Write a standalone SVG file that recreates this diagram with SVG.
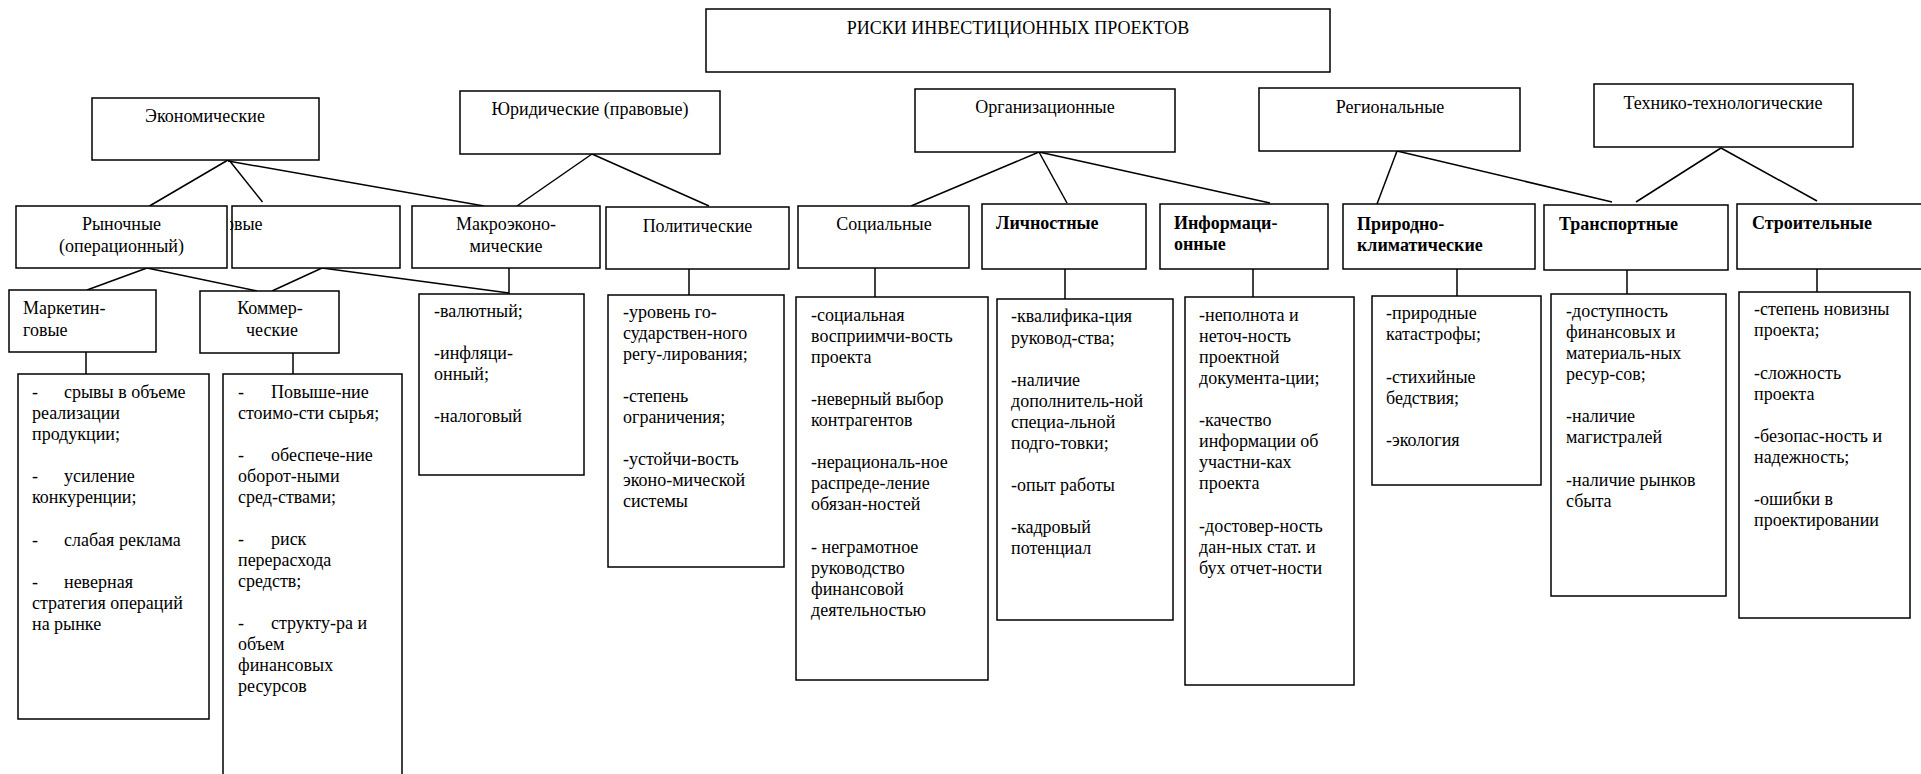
<svg xmlns="http://www.w3.org/2000/svg" width="1921" height="774" viewBox="0 0 1921 774">
  <style>
    .box { fill: #fff; stroke: #000; stroke-width: 1.5; }
    .t { font-family: "Liberation Serif", "Times New Roman", serif; font-size: 18px; fill: #000; }
    .b { font-weight: bold; }
    .m { text-anchor: middle; }
    .ln { stroke: #000; stroke-width: 1.5; fill: none; }
  </style>
  <defs>
    <clipPath id="finClip"><rect x="230" y="200" width="180" height="80"/></clipPath>
  </defs>
  <rect width="1921" height="774" fill="#fff"/>

  <!-- connectors -->
  <g id="connectors" class="ln">
    <line x1="228" y1="160" x2="149.5" y2="206"/>
    <line x1="229" y1="160" x2="262.5" y2="202"/>
    <line x1="228" y1="161" x2="484" y2="206"/>
    <line x1="592" y1="154" x2="517" y2="206"/>
    <line x1="592" y1="154" x2="709" y2="206"/>
    <line x1="147" y1="268" x2="87" y2="290"/>
    <line x1="147" y1="268" x2="257" y2="291"/>
    <line x1="322" y1="268" x2="272" y2="291"/>
    <line x1="322" y1="268" x2="509" y2="293"/>
    <line x1="509" y1="268" x2="509" y2="294"/>
    <line x1="689" y1="269" x2="689" y2="295"/>
    <line x1="1039" y1="152" x2="911" y2="206"/>
    <line x1="1039" y1="152" x2="1067" y2="203"/>
    <line x1="1039" y1="152" x2="1270" y2="203"/>
    <line x1="875" y1="268" x2="875" y2="297"/>
    <line x1="1065" y1="269" x2="1065" y2="299"/>
    <line x1="1253" y1="269" x2="1253" y2="297"/>
    <line x1="1397" y1="151" x2="1377" y2="204"/>
    <line x1="1397" y1="151" x2="1612" y2="202"/>
    <line x1="1721" y1="148" x2="1636" y2="202"/>
    <line x1="1721" y1="148" x2="1817" y2="201"/>
    <line x1="1457" y1="269" x2="1457" y2="296"/>
    <line x1="1627" y1="270" x2="1627" y2="294"/>
    <line x1="1817" y1="269" x2="1817" y2="292"/>
    <line x1="86" y1="352" x2="86" y2="374"/>
    <line x1="293" y1="353" x2="293" y2="374"/>
  </g>

  <!-- root -->
  <g id="root">
    <rect class="box" x="706" y="9" width="624" height="63"/>
    <text class="t m" x="1018" y="34">РИСКИ ИНВЕСТИЦИОННЫХ ПРОЕКТОВ</text>
  </g>

  <!-- top-level categories -->
  <g id="economic">
    <rect class="box" x="92" y="98" width="227" height="62"/>
    <text class="t m" x="205" y="122">Экономические</text>
  </g>
  <g id="legal">
    <rect class="box" x="460" y="91" width="260" height="63"/>
    <text class="t m" x="590" y="115">Юридические (правовые)</text>
  </g>
  <g id="organizational">
    <rect class="box" x="915" y="89" width="260" height="63"/>
    <text class="t m" x="1045" y="113">Организационные</text>
  </g>
  <g id="regional">
    <rect class="box" x="1259" y="88" width="261" height="63"/>
    <text class="t m" x="1390" y="113">Региональные</text>
  </g>
  <g id="technical">
    <rect class="box" x="1594" y="84" width="259" height="63"/>
    <text class="t m" x="1723" y="109">Технико-технологические</text>
  </g>

  <!-- second level -->
  <g id="financial">
    <rect class="box" x="232" y="206" width="168" height="62"/>
    <text class="t" x="225" y="230" clip-path="url(#finClip)">овые</text>
  </g>
  <g id="market">
    <rect class="box" x="16" y="206" width="211" height="62"/>
    <text class="t m" x="121.5" y="230">Рыночные</text>
    <text class="t m" x="121.5" y="252">(операционный)</text>
  </g>
  <g id="macro">
    <rect class="box" x="412" y="206" width="188" height="62"/>
    <text class="t m" x="506" y="230">Макроэконо-</text>
    <text class="t m" x="506" y="252">мические</text>
  </g>
  <g id="political">
    <rect class="box" x="606" y="207" width="183" height="62"/>
    <text class="t m" x="697.5" y="232">Политические</text>
  </g>
  <g id="social">
    <rect class="box" x="798" y="206" width="171" height="62"/>
    <text class="t m" x="884" y="230">Социальные</text>
  </g>
  <g id="personal">
    <rect class="box" x="982" y="204" width="164" height="65"/>
    <text class="t b" x="996" y="229">Личностные</text>
  </g>
  <g id="informational">
    <rect class="box" x="1160" y="204" width="168" height="65"/>
    <text class="t b" x="1174" y="229">Информаци-</text>
    <text class="t b" x="1174" y="250">онные</text>
  </g>
  <g id="natural">
    <rect class="box" x="1343" y="204" width="192" height="65"/>
    <text class="t b" x="1357" y="230">Природно-</text>
    <text class="t b" x="1357" y="251">климатические</text>
  </g>
  <g id="transport">
    <rect class="box" x="1544" y="205" width="184" height="65"/>
    <text class="t b" x="1559" y="230">Транспортные</text>
  </g>
  <g id="construction">
    <rect class="box" x="1737" y="204" width="200" height="65"/>
    <text class="t b" x="1752" y="229">Строительные</text>
  </g>

  <!-- third level under market risks -->
  <g id="marketing">
    <rect class="box" x="9" y="290" width="147" height="62"/>
    <text class="t" x="23" y="314">Маркетин-</text>
    <text class="t" x="23" y="336">говые</text>
  </g>
  <g id="commercial">
    <rect class="box" x="200" y="291" width="139" height="62"/>
    <text class="t m" x="270" y="314">Коммер-</text>
    <text class="t m" x="272" y="336">ческие</text>
  </g>

  <!-- detail lists -->
  <g id="marketing-items">
    <rect class="box" x="18" y="374" width="191" height="345"/>
    <text class="t"><tspan x="32" y="398">-</tspan><tspan x="64" y="398">срывы в объеме</tspan><tspan x="32" y="419">реализации</tspan><tspan x="32" y="440">продукции;</tspan><tspan x="32" y="482">-</tspan><tspan x="64" y="482">усиление</tspan><tspan x="32" y="503">конкуренции;</tspan><tspan x="32" y="546">-</tspan><tspan x="64" y="546">слабая реклама</tspan><tspan x="32" y="588">-</tspan><tspan x="64" y="588">неверная</tspan><tspan x="32" y="609">стратегия операций</tspan><tspan x="32" y="630">на рынке</tspan></text>
  </g>
  <g id="commercial-items">
    <rect class="box" x="223" y="374" width="179" height="410"/>
    <text class="t"><tspan x="238" y="398">-</tspan><tspan x="271" y="398">Повыше-ние</tspan><tspan x="238" y="419">стоимо-сти сырья;</tspan><tspan x="238" y="461">-</tspan><tspan x="271" y="461">обеспече-ние</tspan><tspan x="238" y="482">оборот-ными</tspan><tspan x="238" y="503">сред-ствами;</tspan><tspan x="238" y="545">-</tspan><tspan x="271" y="545">риск</tspan><tspan x="238" y="566">перерасхода</tspan><tspan x="238" y="587">средств;</tspan><tspan x="238" y="629">-</tspan><tspan x="271" y="629">структу-ра и</tspan><tspan x="238" y="650">объем</tspan><tspan x="238" y="671">финансовых</tspan><tspan x="238" y="692">ресурсов</tspan></text>
  </g>
  <g id="macro-items">
    <rect class="box" x="419" y="294" width="165" height="181"/>
    <text class="t"><tspan x="434" y="317">-валютный;</tspan><tspan x="434" y="359">-инфляци-</tspan><tspan x="434" y="380">онный;</tspan><tspan x="434" y="422">-налоговый</tspan></text>
  </g>
  <g id="political-items">
    <rect class="box" x="608" y="295" width="176" height="272"/>
    <text class="t"><tspan x="623" y="318">-уровень го-</tspan><tspan x="623" y="339">сударствен-ного</tspan><tspan x="623" y="360">регу-лирования;</tspan><tspan x="623" y="402">-степень</tspan><tspan x="623" y="423">ограничения;</tspan><tspan x="623" y="465">-устойчи-вость</tspan><tspan x="623" y="486">эконо-мической</tspan><tspan x="623" y="507">системы</tspan></text>
  </g>
  <g id="social-items">
    <rect class="box" x="796" y="297" width="192" height="383"/>
    <text class="t"><tspan x="811" y="321">-социальная</tspan><tspan x="811" y="342">восприимчи-вость</tspan><tspan x="811" y="363">проекта</tspan><tspan x="811" y="405">-неверный выбор</tspan><tspan x="811" y="426">контрагентов</tspan><tspan x="811" y="468">-нерациональ-ное</tspan><tspan x="811" y="489">распреде-ление</tspan><tspan x="811" y="510">обязан-ностей</tspan><tspan x="811" y="553">- неграмотное</tspan><tspan x="811" y="574">руководство</tspan><tspan x="811" y="595">финансовой</tspan><tspan x="811" y="616">деятельностью</tspan></text>
  </g>
  <g id="personal-items">
    <rect class="box" x="997" y="299" width="176" height="321"/>
    <text class="t"><tspan x="1011" y="322">-квалифика-ция</tspan><tspan x="1011" y="344">руковод-ства;</tspan><tspan x="1011" y="386">-наличие</tspan><tspan x="1011" y="407">дополнитель-ной</tspan><tspan x="1011" y="428">специа-льной</tspan><tspan x="1011" y="449">подго-товки;</tspan><tspan x="1011" y="491">-опыт работы</tspan><tspan x="1011" y="533">-кадровый</tspan><tspan x="1011" y="554">потенциал</tspan></text>
  </g>
  <g id="informational-items">
    <rect class="box" x="1185" y="297" width="169" height="388"/>
    <text class="t"><tspan x="1199" y="321">-неполнота и</tspan><tspan x="1199" y="342">неточ-ность</tspan><tspan x="1199" y="363">проектной</tspan><tspan x="1199" y="384">документа-ции;</tspan><tspan x="1199" y="426">-качество</tspan><tspan x="1199" y="447">информации об</tspan><tspan x="1199" y="468">участни-ках</tspan><tspan x="1199" y="489">проекта</tspan><tspan x="1199" y="532">-достовер-ность</tspan><tspan x="1199" y="553">дан-ных стат. и</tspan><tspan x="1199" y="574">бух отчет-ности</tspan></text>
  </g>
  <g id="natural-items">
    <rect class="box" x="1372" y="296" width="169" height="189"/>
    <text class="t"><tspan x="1386" y="319">-природные</tspan><tspan x="1386" y="340">катастрофы;</tspan><tspan x="1386" y="383">-стихийные</tspan><tspan x="1386" y="404">бедствия;</tspan><tspan x="1386" y="446">-экология</tspan></text>
  </g>
  <g id="transport-items">
    <rect class="box" x="1551" y="294" width="175" height="302"/>
    <text class="t"><tspan x="1566" y="317">-доступность</tspan><tspan x="1566" y="338">финансовых и</tspan><tspan x="1566" y="359">материаль-ных</tspan><tspan x="1566" y="380">ресур-сов;</tspan><tspan x="1566" y="422">-наличие</tspan><tspan x="1566" y="443">магистралей</tspan><tspan x="1566" y="486">-наличие рынков</tspan><tspan x="1566" y="507">сбыта</tspan></text>
  </g>
  <g id="construction-items">
    <rect class="box" x="1739" y="292" width="171" height="326"/>
    <text class="t"><tspan x="1754" y="315">-степень новизны</tspan><tspan x="1754" y="336">проекта;</tspan><tspan x="1754" y="379">-сложность</tspan><tspan x="1754" y="400">проекта</tspan><tspan x="1754" y="442">-безопас-ность и</tspan><tspan x="1754" y="463">надежность;</tspan><tspan x="1754" y="505">-ошибки в</tspan><tspan x="1754" y="526">проектировании</tspan></text>
  </g>
</svg>
